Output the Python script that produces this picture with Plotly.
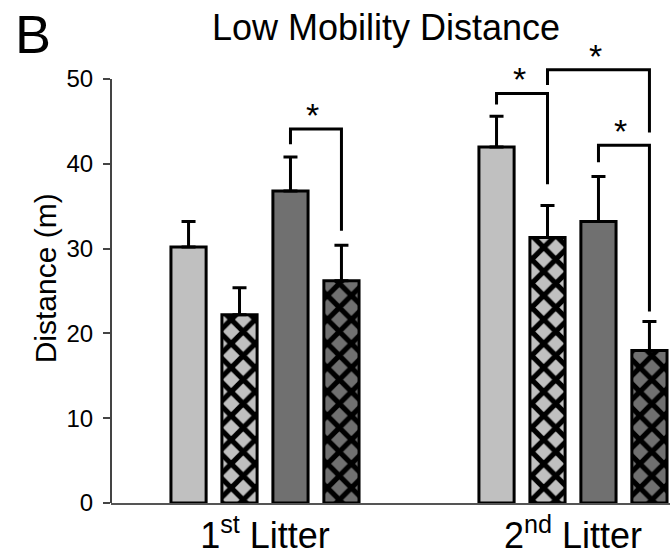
import plotly.graph_objects as go

# ---- data ----
groups = ["1<sup>st</sup> Litter", "2<sup>nd</sup> Litter"]
series_names = ["S1", "S2", "S3", "S4"]
means = [
    [30.2, 42.0],   # light solid
    [22.2, 31.3],   # light hatched
    [36.8, 33.2],   # dark solid
    [26.2, 18.0],   # dark hatched
]
sems = [
    [3.0, 3.6],
    [3.2, 3.8],
    [4.0, 5.3],
    [4.2, 3.4],
]
fills = ["#c0c0c0", "#c0c0c0", "#707070", "#707070"]
hatched = [False, True, False, True]

# significance brackets: (group, left bar, right bar, top, left-leg bottom, right-leg bottom)
brackets = [
    (0, 2, 3, 44.1, 42.3, 32.1),
    (1, 0, 1, 48.3, 47.0, 37.6),
    (1, 1, 3, 51.1, 49.3, 43.7),
    (1, 2, 3, 42.2, 40.2, 22.6),
]
y_ticks = [0, 10, 20, 30, 40, 50]

BARGAP = 0.338
BARGROUPGAP = 0.31
n_series = len(series_names)

def bar_center(g, i):
    slot = (1 - BARGAP) / n_series
    return g + (i - (n_series - 1) / 2) * slot

fig = go.Figure()
for i in range(n_series):
    pattern = (dict(shape="x", fgcolor="black", fgopacity=1, size=17, solidity=0.52)
               if hatched[i] else dict(shape=""))
    fig.add_trace(go.Bar(
        x=[0, 1], y=means[i], name=series_names[i],
        marker=dict(color=fills[i], line=dict(color="black", width=3), pattern=pattern),
        error_y=dict(type="data", array=sems[i], arrayminus=[0, 0], symmetric=False,
                     color="black", thickness=3, width=7),
        showlegend=False,
    ))

shapes = []
for g, a, b, top, lb, rb in brackets:
    xa, xb = bar_center(g, a), bar_center(g, b)
    shapes.append(dict(type="path", xref="x", yref="y",
                       path=f"M {xa} {lb} L {xa} {top} L {xb} {top} L {xb} {rb}",
                       line=dict(color="black", width=3)))
# y axis line from 0 to 50 only
shapes.append(dict(type="line", xref="paper", yref="y", x0=0, x1=0, y0=0, y1=max(y_ticks),
                   line=dict(color="#444444", width=2)))

annotations = []
for g, a, b, top, lb, rb in brackets:
    xm = (bar_center(g, a) + bar_center(g, b)) / 2
    annotations.append(dict(x=xm, y=top, xref="x", yref="y", text="*", showarrow=False,
                            xanchor="center", yanchor="bottom", yshift=-7, xshift=-3,
                            font=dict(size=34, color="black", family="Liberation Sans")))

annotations.append(dict(text="B", xref="paper", yref="paper", x=-0.175, y=0.946,
                        xanchor="left", yanchor="middle", showarrow=False,
                        font=dict(size=54, color="black", family="Liberation Sans")))
annotations.append(dict(text="Low Mobility Distance", xref="paper", yref="paper", x=0.177, y=0.958,
                        xanchor="left", yanchor="middle", showarrow=False,
                        font=dict(size=36, color="black", family="Liberation Sans")))
annotations.append(dict(text="Distance (m)", xref="paper", yref="paper", x=-0.118, y=0.453,
                        xanchor="center", yanchor="middle", showarrow=False, textangle=-90,
                        font=dict(size=30, color="black", family="Liberation Sans")))

fig.update_layout(
    width=670, height=556,
    margin=dict(l=111, r=0, t=7, b=45),
    plot_bgcolor="white", paper_bgcolor="white",
    barmode="group", bargap=BARGAP, bargroupgap=BARGROUPGAP,
    shapes=shapes, annotations=annotations,
    font=dict(family="Liberation Sans", color="black"),
)
fig.update_xaxes(
    range=[-0.5, 1.315], tickvals=[0, 1], ticktext=groups,
    showline=True, linecolor="#555555", linewidth=2, ticks="",
    tickfont=dict(size=36, color="black"), showgrid=False, zeroline=False,
)
fig.update_yaxes(
    range=[0, 58.5], tickvals=y_ticks, showline=False, showgrid=False, zeroline=False,
    ticks="outside", ticklen=7, tickwidth=2, tickcolor="#444444",
    tickfont=dict(size=24, color="black"), ticklabelstandoff=5,
)

fig.write_html("out.html")
